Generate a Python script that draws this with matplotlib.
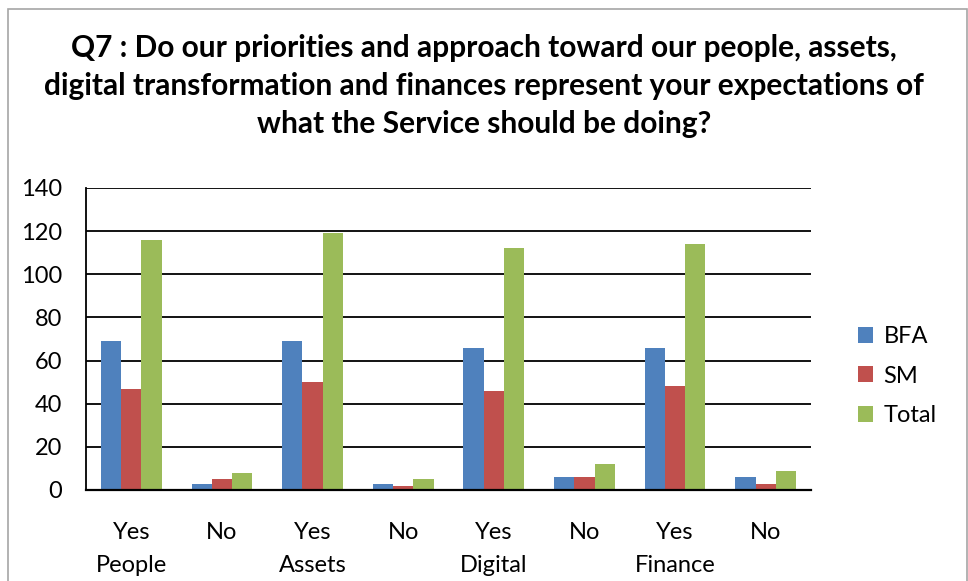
import matplotlib
matplotlib.use("Agg")
import matplotlib.pyplot as plt
import numpy as np
from matplotlib.patches import Rectangle

plt.rcParams['font.family'] = ['Lato', 'DejaVu Sans']

categories = ["Yes\nPeople", "No", "Yes\nAssets", "No", "Yes\nDigital", "No", "Yes\nFinance", "No"]
bfa = [69, 3, 69, 3, 66, 6, 66, 6]
sm = [47, 5, 50, 2, 46, 6, 48, 3]
total = [116, 8, 119, 5, 112, 12, 114, 9]
series_names = ["BFA", "SM", "Total"]
colors = ["#4F81BD", "#C0504D", "#9BBB59"]
yticks = [0, 20, 40, 60, 80, 100, 120, 140]

title = ("Q7 : Do our priorities and approach toward our people, assets,\n"
         "digital transformation and finances represent your expectations of\n"
         "what the Service should be doing?")

W, H = 968, 581
fig = plt.figure(figsize=(W / 100, H / 100), dpi=100)

# chart frame
fig.add_artist(Rectangle((8 / W, -0.05), (967 - 8) / W, 1 - 9 / H + 0.05,
                         transform=fig.transFigure, fill=False,
                         edgecolor="#A6A6A6", linewidth=1.2))

ax = fig.add_axes([86 / W, 1 - 490 / H, (811 - 86) / W, (490 - 188) / H])

x = np.arange(len(categories))
w = 0.223
for i, (vals, name, c) in enumerate(zip([bfa, sm, total], series_names, colors)):
    ax.bar(x + (i - 1) * w, vals, width=w, color=c, label=name, zorder=3)

ax.set_xlim(-0.5, len(categories) - 0.5)
ax.set_ylim(0, 140)
ax.set_yticks(yticks)
ax.set_yticklabels([str(v) for v in yticks], fontsize=17)
ax.set_xticks(x)
ax.set_xticklabels(categories, fontsize=17, linespacing=1.72)
ax.tick_params(axis="both", length=0)
ax.tick_params(axis="y", pad=17)
ax.tick_params(axis="x", pad=23)

ax.grid(axis="y", color="black", linewidth=1.3, zorder=1)
ax.set_axisbelow(True)
for s in ["top", "right"]:
    ax.spines[s].set_visible(False)
ax.spines["left"].set_linewidth(1.3)
ax.spines["bottom"].set_linewidth(1.6)
ax.spines["bottom"].set_zorder(4)

fig.text(0.5, 1 - 34.5 / H, title, ha="center", va="top", fontsize=21.5,
         fontweight="bold", linespacing=1.42)

leg = ax.legend(loc="center left", bbox_to_anchor=(1.035, 0.377), frameon=False,
                fontsize=17, handlelength=0.65, handleheight=0.65,
                handletextpad=0.45, labelspacing=0.78)

fig.savefig("out.png", dpi=100)
